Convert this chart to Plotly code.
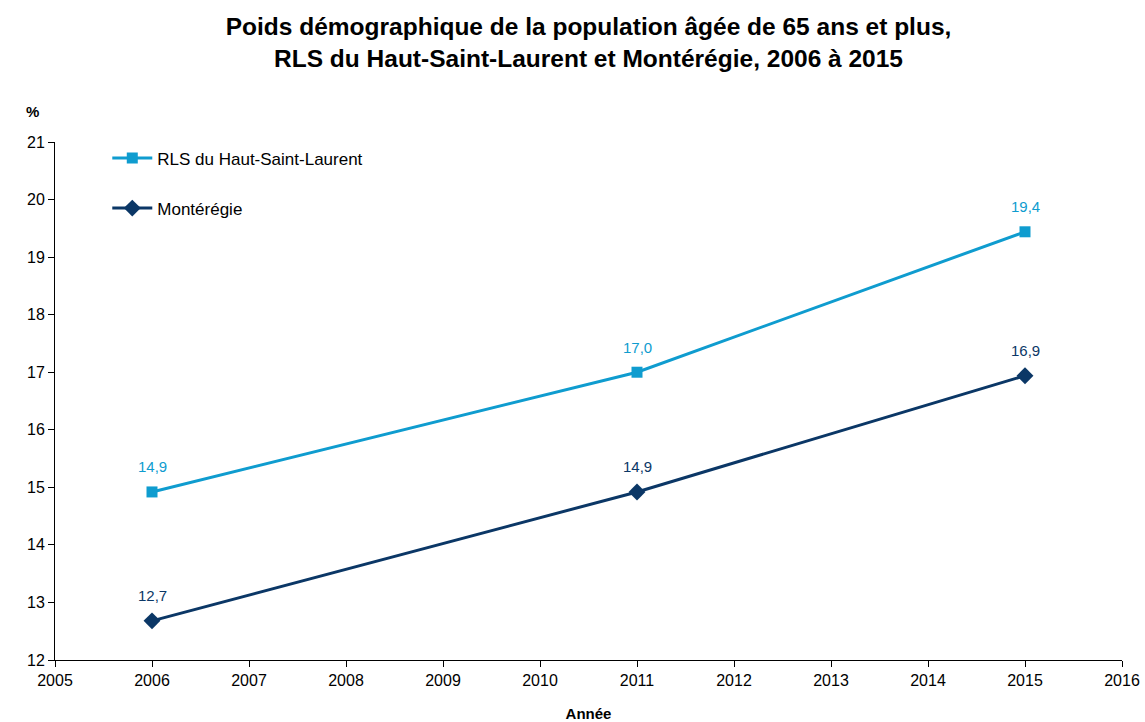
import plotly.graph_objects as go

years = [2006, 2011, 2015]
hsl = [14.92, 17.0, 19.44]
mont = [12.68, 14.92, 16.94]
hsl_labels = ["14,9", "17,0", "19,4"]
mont_labels = ["12,7", "14,9", "16,9"]
series_names = ["RLS du Haut-Saint-Laurent", "Montérégie"]
title_lines = ["Poids démographique de la population âgée de 65 ans et plus,",
               "RLS du Haut-Saint-Laurent et Montérégie, 2006 à 2015"]

c_light = "#0f9ccf"
c_dark = "#0b3766"
font = "Liberation Sans, Arial, sans-serif"

fig = go.Figure()
fig.add_trace(go.Scatter(x=years, y=hsl, mode="lines+markers", name=series_names[0],
                         line=dict(color=c_light, width=3),
                         marker=dict(symbol="square", size=11, color=c_light),
                         legendgroup="a"))
fig.add_trace(go.Scatter(x=years, y=mont, mode="lines+markers", name=series_names[1],
                         line=dict(color=c_dark, width=3),
                         marker=dict(symbol="diamond", size=13, color=c_dark),
                         legendgroup="b"))

anns = []
for xv, yv, t in zip(years, hsl, hsl_labels):
    anns.append(dict(x=xv, y=yv, text=t, showarrow=False, yshift=25,
                     font=dict(size=15, color=c_light, family=font)))
for xv, yv, t in zip(years, mont, mont_labels):
    anns.append(dict(x=xv, y=yv, text=t, showarrow=False, yshift=25,
                     font=dict(size=15, color=c_dark, family=font)))
anns.append(dict(xref="paper", yref="paper", x=-0.0215, y=1.058, text="<b>%</b>",
                 showarrow=False, font=dict(size=15, color="black", family=font),
                 xanchor="center", yanchor="middle"))

fig.update_layout(
    width=1145, height=722,
    margin=dict(l=55, r=23, t=142, b=62),
    paper_bgcolor="white", plot_bgcolor="white",
    title=dict(text="<b>" + title_lines[0] + "<br>" + title_lines[1] + "</b>",
               x=0.514, xanchor="center", y=0.951, yanchor="top",
               font=dict(size=24.5, color="black", family=font)),
    font=dict(family=font, color="black", size=16),
    xaxis=dict(range=[2005, 2016], dtick=1, tick0=2005, showgrid=False, zeroline=False,
               showline=True, linecolor="black", linewidth=1, ticks="outside",
               ticklen=6, tickcolor="black", tickfont=dict(size=16), automargin=False,
               title=dict(text="<b>Année</b>", font=dict(size=15), standoff=20)),
    yaxis=dict(range=[12, 21], dtick=1, showgrid=False, zeroline=False,
               showline=True, linecolor="black", linewidth=1, ticks="outside",
               ticklen=6, tickcolor="black", tickfont=dict(size=16), automargin=False),
    legend=dict(x=0.049, y=1.003, xanchor="left", yanchor="top", itemwidth=40,
                bgcolor="rgba(0,0,0,0)", font=dict(size=17), tracegroupgap=25),
    annotations=anns,
)

fig.write_html("out.html", config={"displayModeBar": False},
               post_script="document.body.style.margin='0';document.body.style.overflow='hidden';")
